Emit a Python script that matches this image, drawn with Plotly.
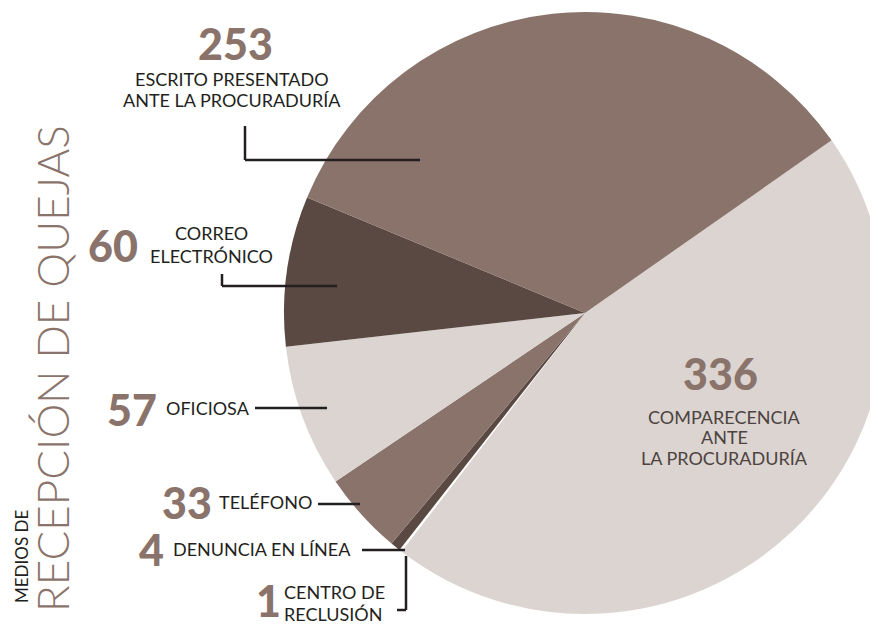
import plotly.graph_objects as go

# ---- data ----
categories = ["COMPARECENCIA ANTE LA PROCURADURÍA", "CENTRO DE RECLUSIÓN",
              "DENUNCIA EN LÍNEA", "TELÉFONO", "OFICIOSA",
              "CORREO ELECTRÓNICO", "ESCRITO PRESENTADO ANTE LA PROCURADURÍA"]
values = [336, 1, 4, 33, 57, 60, 253]
label_lines = [["COMPARECENCIA", "ANTE", "LA PROCURADURÍA"], ["CENTRO DE", "RECLUSIÓN"],
               ["DENUNCIA EN LÍNEA"], ["TELÉFONO"], ["OFICIOSA"],
               ["CORREO", "ELECTRÓNICO"], ["ESCRITO PRESENTADO", "ANTE LA PROCURADURÍA"]]
slice_colors = ["#dbd4d1", "#ffffff", "#5a4942", "#8a736a", "#dbd4d1", "#5a4942", "#8a736a"]
title_small = "MEDIOS DE"
title_big = "RECEPCIÓN DE QUEJAS"

# page offset (body margin) and figure size
OFF = 8
W, H = 890, 626
CX, CY, R = 585, 313, 301   # in window pixels

NUM_COLOR = "#8a736a"
TXT_COLOR = "#231f20"
FONT = "Lato"


def px(x):
    return (x - OFF) / W


def py(y):
    return 1 - (y - OFF) / H


fig = go.Figure(go.Pie(
    labels=categories, values=values, sort=False, direction="clockwise",
    rotation=55, marker=dict(colors=slice_colors, line=dict(width=0)),
    textinfo="none", hoverinfo="label+value", showlegend=False,
    domain=dict(x=[px(CX - R), px(CX + R)], y=[py(CY + R), py(CY - R)]),
))

annotations = []


def add_text(x, y, text, size, color, weight=400, xanchor="center", angle=0):
    annotations.append(dict(
        x=px(x), y=py(y), xref="paper", yref="paper", text=text, showarrow=False,
        xanchor=xanchor, yanchor="middle", textangle=angle, borderpad=0,
        font=dict(family=FONT, size=size, color=color, weight=weight),
    ))


# numbers: value -> (x, y)
num_pos = {336: (720, 373), 1: (268, 600), 4: (151, 549),
           33: (187, 502), 57: (132, 409), 60: (113, 245),
           253: (235, 43)}
for v in values:
    x, y = num_pos[v]
    add_text(x, y, str(v), 43, NUM_COLOR, weight=900)

# labels: (x, [y per line], anchor, colour)
lab_pos = [(724, [417, 437, 458], "center", "#4d4340"),
           (283, [592, 614], "left", TXT_COLOR),
           (172, [549], "left", TXT_COLOR),
           (218, [502], "left", TXT_COLOR),
           (165, [408], "left", TXT_COLOR),
           (211, [233, 256], "center", TXT_COLOR),
           (232, [79, 100], "center", TXT_COLOR)]
for lines, (x, ys, anc, col) in zip(label_lines, lab_pos):
    for line, y in zip(lines, ys):
        add_text(x, y, line, 18, col, xanchor=anc)

# side titles
add_text(21, 557, title_small, 17, TXT_COLOR, angle=-90)
add_text(52, 369, title_big, 44, NUM_COLOR, weight=300, angle=-90)

# leader lines (window px)
leaders = [
    [(245, 126), (245, 160), (420, 160)],
    [(222, 274), (222, 286), (337, 286)],
    [(255, 408), (327, 408)],
    [(318, 504), (360, 504)],
    [(362, 550), (405, 550)],
    [(406, 556), (406, 610), (397, 610)],
]
shapes = []
for pts in leaders:
    for (x0, y0), (x1, y1) in zip(pts[:-1], pts[1:]):
        shapes.append(dict(type="line", xref="paper", yref="paper",
                           x0=px(x0), y0=py(y0), x1=px(x1), y1=py(y1),
                           line=dict(color=TXT_COLOR, width=2.5)))

fig.update_layout(
    width=W, height=H, margin=dict(l=0, r=0, t=0, b=0),
    paper_bgcolor="white", plot_bgcolor="white",
    annotations=annotations, shapes=shapes,
)

fig.write_html("out.html")
